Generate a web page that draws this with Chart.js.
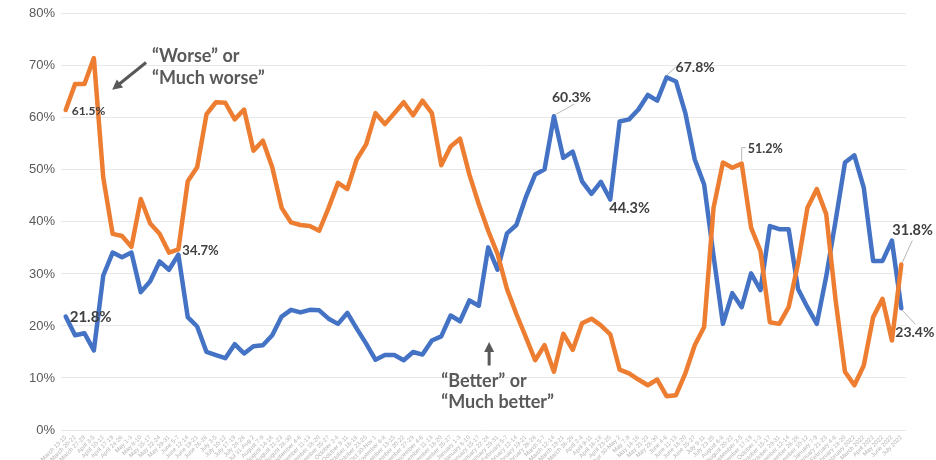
<!DOCTYPE html>
<html>
<head>
<meta charset="utf-8">
<script src="https://cdn.jsdelivr.net/npm/chart.js@4.4.1/dist/chart.umd.min.js"></script>
<style>
  html, body { margin: 0; padding: 0; background: #fff; }
  #wrap { width: 936px; height: 460px; position: relative; }
</style>
</head>
<body>
<div id="wrap"><canvas id="chart"></canvas></div>
<script>
// poll dates (weekly in 2020-21, then bi-weekly, then monthly)
const dates = [
  'March 13-15', 'March 20-22', 'March 27-29', 'April 3-5', 'April 10-12', 'April 17-19', 'April 24-26', 'May 1-3', 'May 8-10', 'May 15-17',
  'May 22-24', 'May 29-31', 'June 5-7', 'June 12-14', 'June 19-21', 'June 26-28', 'July 3-5', 'July 10-12', 'July 17-19', 'July 24-26',
  'Jul 31-Aug 2', 'August 7-9', 'August 14-16', 'August 21-23', 'August 28-30', 'September 4-6', 'September 11-13', 'September 18-20', 'September 25-27', 'October 2-4',
  'October 9-11', 'October 16-18', 'October 23-25', 'Oct 30-Nov 1', 'November 6-8', 'November 13-15', 'November 20-22', 'November 27-29', 'December 4-6', 'December 11-13',
  'December 18-20', 'December 25-27', 'January 1-3', 'January 8-10', 'January 15-17', 'January 22-24', 'January 29-31', 'February 5-7', 'February 12-14', 'February 19-21',
  'February 26-28', 'March 5-7', 'March 12-14', 'March 19-21', 'March 26-28', 'April 2-4', 'April 9-11', 'April 16-18', 'April 23-25', 'Apr 30-May 2',
  'May 7-9', 'May 14-16', 'May 21-23', 'May 28-30', 'June 4-6', 'June 11-13', 'June 18-20', 'June 25-27', 'July 9-11', 'July 23-25',
  'August 6-8', 'August 20-22', 'September 3-5', 'September 17-19', 'October 1-3', 'October 15-17', 'October 29-31', 'November 12-14', 'November 26-28', 'December 10-12',
  'January 7-9', 'January 21-23', 'February 4-6', 'February 18-20', 'February 2022', 'March 2022', 'April 2022', 'May 2022', 'June 2022', 'July 2022'
];

// "Worse" or "Much worse"
const worse = [
  61.5, 66.5, 66.5, 71.5, 48.5, 37.7, 37.3, 35.2, 44.4, 39.7,
  37.7, 34.1, 34.7, 47.8, 50.5, 60.7, 63.0, 62.9, 59.7, 61.6,
  53.7, 55.6, 50.5, 42.7, 39.9, 39.4, 39.2, 38.3, 42.7, 47.5,
  46.3, 52.0, 54.9, 60.9, 58.8, 60.9, 63.0, 60.5, 63.3, 60.9,
  50.9, 54.5, 56.0, 49.1, 43.4, 38.3, 33.8, 27.1, 22.3, 17.9,
  13.4, 16.3, 11.2, 18.5, 15.4, 20.5, 21.4, 20.1, 18.4, 11.6,
  10.9, 9.7, 8.6, 9.7, 6.5, 6.7, 10.9, 16.3, 19.8, 42.7,
  51.4, 50.4, 51.2, 38.9, 34.4, 20.7, 20.4, 23.6, 32.0, 42.7,
  46.3, 41.5, 25.0, 11.2, 8.6, 12.4, 21.7, 25.2, 17.2, 31.8
];

// "Better" or "Much better"
const better = [
  21.8, 18.2, 18.6, 15.3, 29.7, 34.1, 33.2, 34.1, 26.5, 28.6,
  32.4, 30.8, 33.7, 21.7, 19.9, 15.0, 14.4, 13.8, 16.5, 14.7,
  16.1, 16.3, 18.2, 21.8, 23.1, 22.6, 23.1, 23.0, 21.4, 20.4,
  22.5, 19.5, 16.6, 13.5, 14.4, 14.4, 13.4, 15.0, 14.5, 17.2,
  18.0, 22.0, 20.9, 24.9, 23.9, 35.1, 30.8, 37.8, 39.4, 44.7,
  49.1, 50.1, 60.3, 52.3, 53.5, 47.8, 45.4, 47.7, 44.3, 59.3,
  59.7, 61.6, 64.4, 63.3, 67.8, 67.0, 60.9, 52.0, 47.2, 33.5,
  20.4, 26.3, 23.6, 30.1, 26.9, 39.2, 38.6, 38.6, 27.1, 23.6,
  20.4, 29.5, 40.2, 51.4, 52.8, 46.6, 32.5, 32.5, 36.4, 23.4
];

const ORANGE = '#ED7D31';
const BLUE = '#4472C4';

// value callouts: [dataset, index, text, dx, dy, size, leader]
const callouts = [
  [0, 0, '61.5%', 6, 1, 12, null],
  [1, 0, '21.8%', 4, 1, 15, null],
  [0, 12, '34.7%', 4, 1, 13, null],
  [1, 52, '60.3%', -2, -19, 14, [2, -2, 20, -12]],
  [1, 58, '44.3%', -1, 9, 14.5, null],
  [1, 64, '67.8%', 9, -10, 14, [0, -2, 9, -10]],
  [0, 72, '51.2%', 6, -15, 12.5, [0, -3, 0, -16, 4, -16]],
  [0, 89, '31.8%', -9, -34, 14.5, [1, -2, 11, -24]],
  [1, 89, '23.4%', -6, 24, 14, [1, 2, 14, 16]]
];

function arrow(ctx, x1, y1, x2, y2) {
  const a = Math.atan2(y2 - y1, x2 - x1);
  ctx.beginPath();
  ctx.moveTo(x1, y1);
  ctx.lineTo(x2 - 6 * Math.cos(a), y2 - 6 * Math.sin(a));
  ctx.stroke();
  ctx.beginPath();
  ctx.moveTo(x2, y2);
  ctx.lineTo(x2 - 10 * Math.cos(a) + 5 * Math.sin(a), y2 - 10 * Math.sin(a) - 5 * Math.cos(a));
  ctx.lineTo(x2 - 10 * Math.cos(a) - 5 * Math.sin(a), y2 - 10 * Math.sin(a) + 5 * Math.cos(a));
  ctx.closePath();
  ctx.fill();
}

const notes = {
  id: 'notes',
  afterDatasetsDraw(chart) {
    const ctx = chart.ctx;
    const xs = chart.scales.x, ys = chart.scales.y;
    ctx.save();
    callouts.forEach(c => {
      const pt = chart.getDatasetMeta(c[0]).data[c[1]];
      if (c[6]) {
        const l = c[6];
        ctx.strokeStyle = '#b5b5b5';
        ctx.lineWidth = 1;
        ctx.beginPath();
        ctx.moveTo(pt.x + l[0], pt.y + l[1]);
        for (let k = 2; k < l.length; k += 2) ctx.lineTo(pt.x + l[k], pt.y + l[k + 1]);
        ctx.stroke();
      }
      ctx.fillStyle = '#404040';
      ctx.font = 'bold ' + c[5] + 'px Lato';
      ctx.textBaseline = 'middle';
      ctx.textAlign = 'left';
      ctx.fillText(c[2], pt.x + c[3], pt.y + c[4]);
    });

    ctx.fillStyle = '#595959';
    ctx.strokeStyle = '#595959';
    ctx.lineWidth = 3;
    ctx.font = 'bold 18px Lato';
    ctx.textBaseline = 'middle';
    ctx.textAlign = 'left';
    let x = xs.getPixelForValue(9.2), y = ys.getPixelForValue(71.8);
    ctx.fillText('\u201CWorse\u201D or', x, y);
    ctx.fillText('\u201CMuch worse\u201D', x, y + 22);
    arrow(ctx, x - 6, y + 6, xs.getPixelForValue(4.95), ys.getPixelForValue(65.4));

    x = xs.getPixelForValue(40.0); y = ys.getPixelForValue(9.3);
    ctx.fillText('\u201CBetter\u201D or', x, y);
    ctx.fillText('\u201CMuch better\u201D', x, y + 21);
    const ax = xs.getPixelForValue(45.1);
    arrow(ctx, ax, ys.getPixelForValue(12.4), ax, ys.getPixelForValue(16.9));
    ctx.restore();
  }
};

new Chart(document.getElementById('chart').getContext('2d'), {
  type: 'line',
  data: {
    labels: dates,
    datasets: [
      { label: '"Worse" or "Much worse"', data: worse, borderColor: ORANGE, backgroundColor: ORANGE },
      { label: '"Better" or "Much better"', data: better, borderColor: BLUE, backgroundColor: BLUE }
    ]
  },
  options: {
    responsive: true,
    maintainAspectRatio: false,
    devicePixelRatio: 1,
    animation: false,
    layout: { padding: { left: 0, right: 30, top: 12, bottom: 0 } },
    elements: {
      line: { borderWidth: 4.5, tension: 0, borderJoinStyle: 'round', borderCapStyle: 'round' },
      point: { radius: 0, hoverRadius: 0 }
    },
    plugins: { legend: { display: false }, tooltip: { enabled: false } },
    scales: {
      x: {
        offset: true,
        grid: { display: false, drawTicks: false },
        border: { display: false },
        ticks: {
          autoSkip: false, maxRotation: 45, minRotation: 45, padding: 4,
          color: '#b4b4b4', font: { family: 'Liberation Sans', size: 6 }
        },
        afterFit(scale) { scale.height = 30; }
      },
      y: {
        min: 0, max: 80,
        grid: { color: '#e8e8e8', lineWidth: 1, drawTicks: false },
        border: { display: false },
        ticks: {
          stepSize: 10, padding: 6,
          color: '#595959', font: { family: 'Liberation Sans', size: 13 },
          callback: v => v + '%'
        },
        afterFit(scale) { scale.width = 61; }
      }
    }
  },
  plugins: [notes]
});
</script>
</body>
</html>
